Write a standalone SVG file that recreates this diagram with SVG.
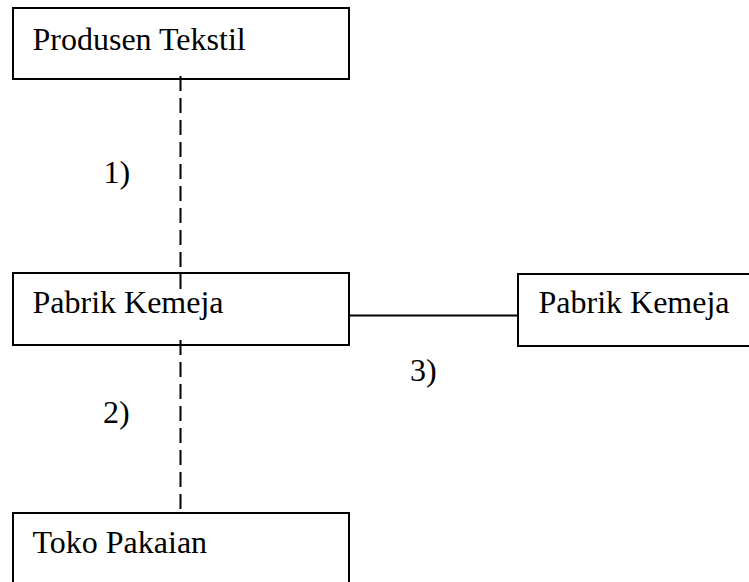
<svg xmlns="http://www.w3.org/2000/svg" width="749" height="582" viewBox="0 0 749 582">
  <style>
    .box { fill: #ffffff; stroke: #000000; stroke-width: 2; }
    .label { font-family: 'Liberation Serif', Tinos, 'Times New Roman', 'DejaVu Serif', serif; font-size: 32px; fill: #000000; }
    .link { stroke: #000000; stroke-width: 2; fill: none; }
    .dashed { stroke-dasharray: 15 7; }
  </style>
  <rect width="749" height="582" fill="#ffffff"/>

  <g id="node-produsen-tekstil">
    <rect class="box" x="13" y="8" width="336" height="71"/>
    <text class="label" x="32.5" y="50">Produsen Tekstil</text>
  </g>

  <g id="node-pabrik-kemeja-1">
    <rect class="box" x="13" y="273" width="336" height="72"/>
    <text class="label" x="32.5" y="313">Pabrik Kemeja</text>
  </g>

  <g id="node-pabrik-kemeja-2">
    <rect class="box" x="518" y="274" width="240" height="72"/>
    <text class="label" x="538.5" y="313">Pabrik Kemeja</text>
  </g>

  <g id="node-toko-pakaian">
    <rect class="box" x="13" y="513" width="336" height="80"/>
    <text class="label" x="32.5" y="553">Toko Pakaian</text>
  </g>

  <g id="connectors">
    <line class="link dashed" x1="180.5" y1="76" x2="180.5" y2="289"/>
    <line class="link dashed" x1="180.5" y1="340" x2="180.5" y2="513"/>
    <line class="link" x1="349" y1="315.5" x2="518" y2="315.5"/>
    <text class="label" x="103.5" y="183">1)</text>
    <text class="label" x="103" y="423">2)</text>
    <text class="label" x="410" y="381">3)</text>
  </g>
</svg>
